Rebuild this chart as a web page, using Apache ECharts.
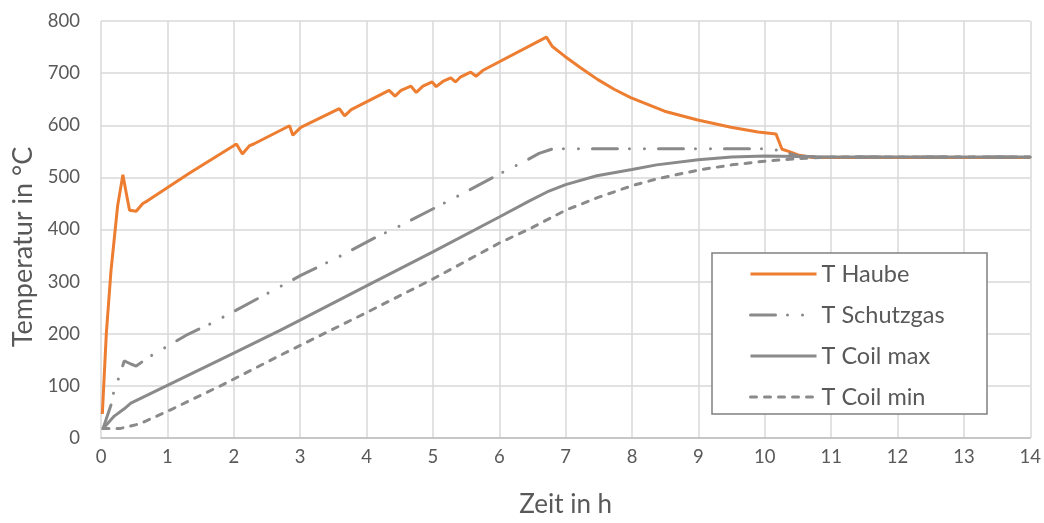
<!DOCTYPE html>
<html>
<head>
<meta charset="utf-8">
<script src="https://cdn.jsdelivr.net/npm/echarts@6/dist/echarts.min.js"></script>
<style>
html,body{margin:0;padding:0;background:#fff;}
#chart{width:1044px;height:523px;}
</style>
</head>
<body>
<div id="chart"></div>
<script>
// ---- data (time in h, temperature in °C) ----
var seriesNames = ['T Haube', 'T Schutzgas', 'T Coil max', 'T Coil min'];
var xTicks = [0,1,2,3,4,5,6,7,8,9,10,11,12,13,14];
var yTicks = [0,100,200,300,400,500,600,700,800];

var haubeTime = [0.02,0.08,0.15,0.25,0.33,0.38,0.43,0.53,0.63,0.70,1.33,2.04,2.13,2.24,2.30,2.84,2.89,3.01,3.59,3.67,3.77,4.34,4.43,4.52,4.67,4.75,4.85,4.99,5.05,5.15,5.27,5.34,5.42,5.57,5.65,5.75,6.71,6.80,6.98,7.23,7.48,7.73,7.98,8.49,8.99,9.49,9.9,10.17,10.26,10.36,10.5,10.72,11,12,13,14];
var haubeTemp = [46,200,320,445,505,470,437,435,450,455,508,564,545,561,564,599,581,596,632,618,630,667,656,667,675,663,675,683,674,684,691,683,693,702,694,705,769,751,733,710,688,669,653,627,610,596,587,583,554,550,543,538,538,538,538,538];

var schutzTime = [0.03,0.16,0.20,0.28,0.35,0.45,0.53,0.73,1.31,1.68,2.81,3.01,3.59,4.14,4.52,5.10,5.45,6.04,6.40,6.60,6.81,10.1,10.3,10.5,10.8,14];
var schutzTemp = [18,67,94,119,148,142,138,156,199,221,298,312,348,385,408,446,469,509,532,546,555,555,548,541,539,539];

var coilMaxTime = [0.03,0.10,0.20,0.35,0.45,1.0,2.0,2.69,3.0,4.0,5.0,6.0,6.47,6.72,7.0,7.47,8.0,8.37,9.0,9.5,10.0,10.5,11,14];
var coilMaxTemp = [18,28,42,56,67,101,163,206,226,292,357,424,456,472,486,503,515,524,534,539,541,540,539,539];

var coilMinTime = [0.03,0.28,0.58,1.08,1.83,2.69,3.99,5.0,6.0,6.5,7.0,7.5,8.0,8.37,9.0,9.5,10.0,10.5,11,14];
var coilMinTemp = [18,18,27,56,102,158,240,305,374,404,437,462,484,497,514,524,531,536,539,539];

function zip(a, b) { return a.map(function (v, i) { return [v, b[i]]; }); }

var orange = '#ED7D31';
var gray = '#8a8a8a';
var txt = '#595959';
var FONT = 'Lato';

var chart = echarts.init(document.getElementById('chart'), null, {renderer: 'canvas'});
chart.setOption({
  animation: false,
  backgroundColor: '#ffffff',
  grid: {left: 101, right: 13, top: 21, bottom: 82},
  xAxis: {
    type: 'value', min: xTicks[0], max: xTicks[xTicks.length - 1], interval: 1,
    name: 'Zeit in h', nameLocation: 'middle', nameGap: 54,
    nameTextStyle: {fontFamily: FONT, fontSize: 26, color: txt},
    axisLine: {show: true, lineStyle: {color: '#bfbfbf', width: 1.5}},
    axisTick: {show: false},
    axisLabel: {fontFamily: FONT, fontSize: 18.5, color: txt, margin: 10},
    splitLine: {show: true, lineStyle: {color: '#d9d9d9', width: 1.5}}
  },
  yAxis: {
    type: 'value', min: yTicks[0], max: yTicks[yTicks.length - 1], interval: 100,
    axisLine: {show: false},
    axisTick: {show: false},
    axisLabel: {fontFamily: FONT, fontSize: 18.5, color: txt, margin: 21},
    splitLine: {show: true, lineStyle: {color: '#d9d9d9', width: 1.5}}
  },
  legend: {
    orient: 'vertical', left: 739, top: 262,
    padding: [0, 0, 0, 10],
    itemWidth: 66, itemHeight: 20, itemGap: 17,
    itemStyle: {opacity: 0},
    lineStyle: {width: 3},
    textStyle: {fontFamily: FONT, fontSize: 23.5, color: txt, lineHeight: 20, height: 20},
    data: seriesNames
  },
  graphic: [
    {type: 'rect', shape: {x: 712, y: 253, width: 275, height: 161},
     style: {fill: '#ffffff', stroke: '#808080', lineWidth: 1.5}, z: 1, silent: true},
    {type: 'text', x: 23, y: 247, rotation: Math.PI / 2,
     style: {text: 'Temperatur in °C', fontFamily: FONT, fontSize: 27, fill: txt, align: 'center', verticalAlign: 'middle'}}
  ],
  series: [
    {name: seriesNames[0], type: 'line', symbol: 'none', data: zip(haubeTime, haubeTemp),
     lineStyle: {color: orange, width: 3}, itemStyle: {color: orange}},
    {name: seriesNames[1], type: 'line', symbol: 'none', data: zip(schutzTime, schutzTemp),
     lineStyle: {color: gray, width: 3, type: [25, 12, 0.01, 15, 0.01, 14], cap: 'round'}, itemStyle: {color: gray}},
    {name: seriesNames[2], type: 'line', symbol: 'none', data: zip(coilMaxTime, coilMaxTemp),
     lineStyle: {color: gray, width: 3}, itemStyle: {color: gray}},
    {name: seriesNames[3], type: 'line', symbol: 'none', data: zip(coilMinTime, coilMinTemp),
     lineStyle: {color: gray, width: 3, type: [6, 8], cap: 'round'}, itemStyle: {color: gray}}
  ]
});
</script>
</body>
</html>
